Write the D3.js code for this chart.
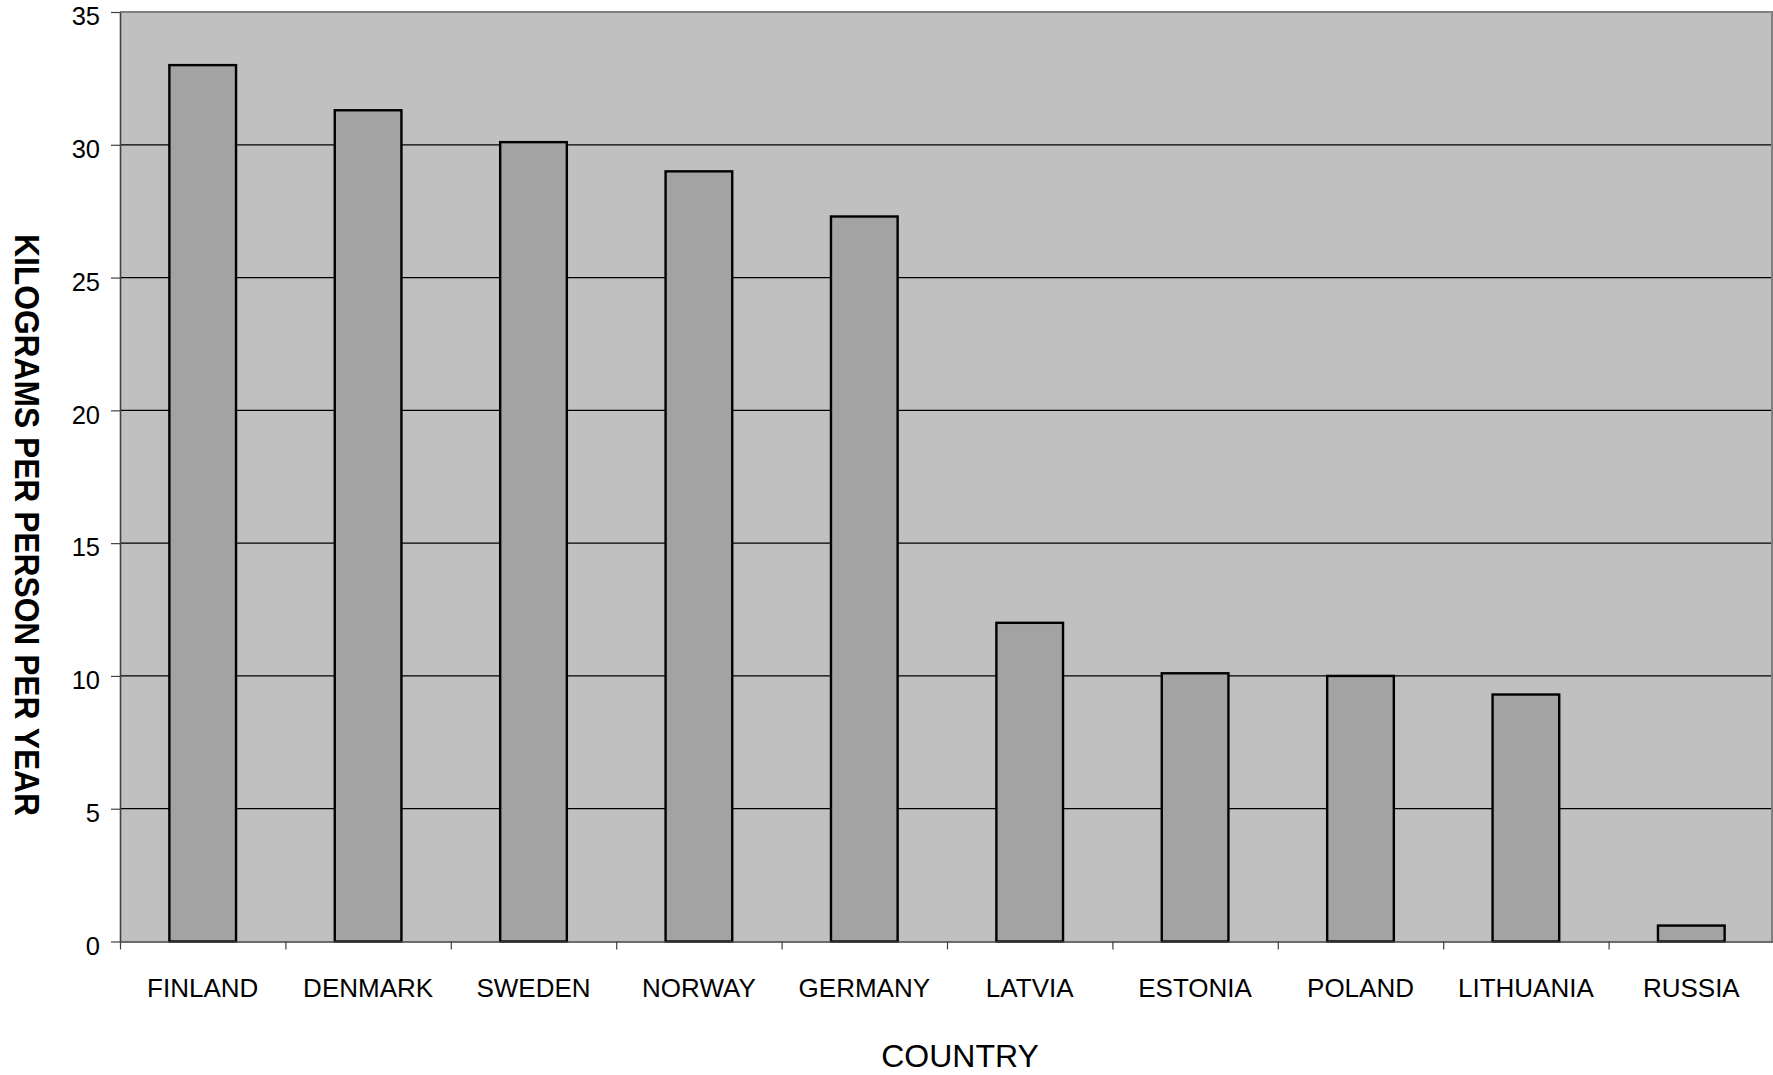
<!DOCTYPE html>
<html>
<head>
<meta charset="utf-8">
<script src="https://cdn.jsdelivr.net/npm/d3@7"></script>
<style>
  html, body { margin: 0; padding: 0; background: #ffffff; }
  svg { display: block; }
  text { font-family: "Liberation Sans", Arial, sans-serif; }
</style>
</head>
<body>
<svg id="chart" width="1773" height="1075"></svg>
<script>
// Consumption per country, kilograms per person per year
const countries = ["FINLAND", "DENMARK", "SWEDEN", "NORWAY", "GERMANY",
                   "LATVIA", "ESTONIA", "POLAND", "LITHUANIA", "RUSSIA"];
const kgPerPerson = [33.0, 31.3, 30.1, 29.0, 27.3, 12.0, 10.1, 10.0, 9.3, 0.6];
const yTicks = [0, 5, 10, 15, 20, 25, 30, 35];
const xTitle = "COUNTRY";
const yTitle = "KILOGRAMS PER PERSON PER YEAR";

const svg = d3.select("#chart");
const plotL = 120, plotR = 1774, plotT = 12, plotB = 941.5;

const x = d3.scaleBand().domain(countries).range([plotL, plotR]).padding(0);
const xEdge = d3.scaleLinear().domain([0, countries.length]).range([plotL, plotR]);
const y = d3.scaleLinear().domain([0, 35]).range([plotB, plotT]);

// plot background
svg.append("rect")
  .attr("x", plotL).attr("y", plotT)
  .attr("width", plotR - plotL).attr("height", plotB - plotT)
  .attr("fill", "#c0c0c0");

// horizontal gridlines
svg.append("g")
  .selectAll("line")
  .data(yTicks.filter(t => t > 0 && t < 35))
  .join("line")
  .attr("x1", plotL).attr("x2", plotR)
  .attr("y1", d => y(d)).attr("y2", d => y(d))
  .attr("stroke", "#000").attr("stroke-width", 1.2);

// top and right frame
svg.append("line")
  .attr("x1", plotL).attr("x2", plotR).attr("y1", plotT).attr("y2", plotT)
  .attr("stroke", "#808080").attr("stroke-width", 2);
svg.append("line")
  .attr("x1", 1772).attr("x2", 1772).attr("y1", plotT).attr("y2", plotB)
  .attr("stroke", "#808080").attr("stroke-width", 2);

// bars
const barW = x.bandwidth() * 0.403;
svg.append("g")
  .selectAll("rect")
  .data(countries.map((c, i) => ({ c, v: kgPerPerson[i] })))
  .join("rect")
  .attr("x", d => x(d.c) + (x.bandwidth() - barW) / 2)
  .attr("y", d => y(d.v))
  .attr("width", barW)
  .attr("height", d => y(0) - y(d.v))
  .attr("fill", "#a3a3a3")
  .attr("stroke", "#000")
  .attr("stroke-width", 2.4);

// y axis
const yAxis = svg.append("g")
  .attr("transform", `translate(${plotL},0)`)
  .call(d3.axisLeft(y).tickValues(yTicks).tickSize(9).tickSizeOuter(0).tickPadding(11));
yAxis.select(".domain").attr("stroke", "#404040").attr("stroke-width", 1.6);
yAxis.selectAll(".tick line").attr("stroke", "#404040").attr("stroke-width", 1.2);
yAxis.selectAll(".tick text")
  .attr("font-size", 25.5).attr("fill", "#000")
  .attr("font-family", "'Liberation Sans', Arial, sans-serif")
  .attr("dy", "0.5em");

// x axis: tick marks on category boundaries
const xTickAxis = svg.append("g")
  .attr("transform", `translate(0,${plotB})`)
  .call(d3.axisBottom(xEdge).tickValues(d3.range(0, countries.length + 1))
        .tickSize(8).tickSizeOuter(0).tickFormat(""));
xTickAxis.select(".domain").attr("stroke", "#404040").attr("stroke-width", 1.6);
xTickAxis.selectAll(".tick line").attr("stroke", "#404040").attr("stroke-width", 1.2);

// x axis: category labels
const xLabelAxis = svg.append("g")
  .attr("transform", `translate(0,${plotB})`)
  .call(d3.axisBottom(x).tickSize(0).tickPadding(37));
xLabelAxis.select(".domain").remove();
xLabelAxis.selectAll(".tick text")
  .attr("font-size", 26).attr("fill", "#000")
  .attr("font-family", "'Liberation Sans', Arial, sans-serif");

// axis titles
svg.append("text")
  .attr("x", 960).attr("y", 1067)
  .attr("text-anchor", "middle")
  .attr("font-size", 32).attr("fill", "#000")
  .text(xTitle);

svg.append("text")
  .attr("transform", "translate(27,525) rotate(90)")
  .attr("text-anchor", "middle")
  .attr("dominant-baseline", "central")
  .attr("font-size", 35).attr("font-weight", "bold").attr("fill", "#000")
  .attr("textLength", 582).attr("lengthAdjust", "spacingAndGlyphs")
  .text(yTitle);
</script>
</body>
</html>
